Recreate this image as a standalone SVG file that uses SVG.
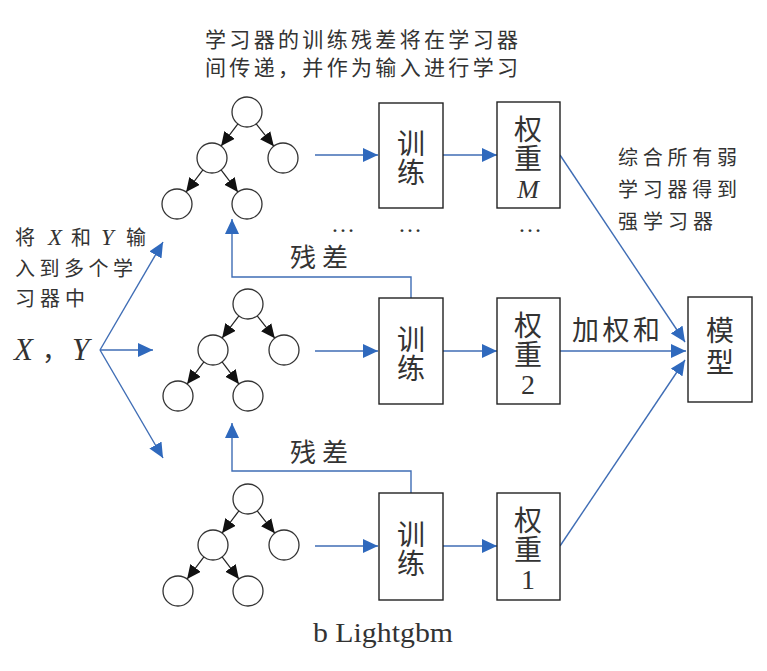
<svg xmlns="http://www.w3.org/2000/svg" xmlns:xlink="http://www.w3.org/1999/xlink" width="767" height="671" viewBox="0 0 767 671">
<style>
.cj{font-family:"Noto Sans CJK SC","Noto Sans",sans-serif;fill:#333;}
.se{font-family:"Liberation Serif","Noto Sans CJK SC",serif;fill:#333;}
.vt{font-family:"Noto Sans CJK SC","Noto Sans",sans-serif;fill:#333;font-size:28px;writing-mode:vertical-rl;text-anchor:middle;letter-spacing:1px;}
.box{fill:#fff;stroke:#222;stroke-width:1.4;}
.nd{fill:#fff;stroke:#333;stroke-width:1.3;}
.te{stroke:#222;stroke-width:1.2;marker-end:url(#ka);}
.ba{fill:none;stroke:#3f6db5;stroke-width:1.4;marker-end:url(#ba);}
</style>
<defs>
<marker id="ba" markerUnits="userSpaceOnUse" markerWidth="16" markerHeight="14" refX="15" refY="7" orient="auto"><path d="M0,0 L15,7 L0,14 z" fill="#2f69bd"/></marker>
<marker id="ka" markerUnits="userSpaceOnUse" markerWidth="15" markerHeight="14" refX="14" refY="6.5" orient="auto"><path d="M0,0 L14,6.5 L0,13 z" fill="#111"/></marker>
<g id="tree">
<line class="te" x1="-9.1" y1="11.9" x2="-25.9" y2="34.1"/>
<line class="te" x1="9.2" y1="11.8" x2="26.8" y2="34.2"/>
<line class="te" x1="-44.1" y1="57.9" x2="-60.9" y2="80.1"/>
<line class="te" x1="-25.9" y1="57.9" x2="-9.1" y2="80.1"/>
<circle class="nd" cx="0" cy="0" r="15"/>
<circle class="nd" cx="-35" cy="46" r="15"/>
<circle class="nd" cx="36" cy="46" r="15"/>
<circle class="nd" cx="-70" cy="92" r="15"/>
<circle class="nd" cx="0" cy="92" r="15"/>
</g>
</defs>
<rect width="767" height="671" fill="#fff"/>

<g id="connectors">
<line class="ba" x1="100" y1="350" x2="163" y2="242"/>
<line class="ba" x1="100" y1="350" x2="153" y2="350"/>
<line class="ba" x1="100" y1="350" x2="163" y2="458"/>
<line class="ba" x1="315" y1="155" x2="378" y2="155"/>
<line class="ba" x1="315" y1="351" x2="378" y2="351"/>
<line class="ba" x1="315" y1="546" x2="378" y2="546"/>
<line class="ba" x1="443" y1="155" x2="497" y2="155"/>
<line class="ba" x1="443" y1="351" x2="497" y2="351"/>
<line class="ba" x1="443" y1="546" x2="497" y2="546"/>
<path class="ba" d="M411,298 V277 H232 V219"/>
<path class="ba" d="M411,493 V471 H232 V423"/>
<line class="ba" x1="560" y1="155" x2="685" y2="342"/>
<line class="ba" x1="560" y1="351" x2="686" y2="351"/>
<line class="ba" x1="560" y1="546" x2="685" y2="360"/>
</g>

<g id="tree3"><use xlink:href="#tree" x="247" y="112"/></g>
<g id="tree2"><use xlink:href="#tree" x="248" y="304"/></g>
<g id="tree1"><use xlink:href="#tree" x="248" y="499"/></g>

<g id="trainM"><rect class="box" x="379" y="103" width="64" height="105"/>
<text class="vt" x="411" y="158">训练</text></g>
<g id="train2"><rect class="box" x="379" y="298" width="64" height="106"/>
<text class="vt" x="411" y="354">训练</text></g>
<g id="train1"><rect class="box" x="379" y="493" width="64" height="107"/>
<text class="vt" x="411" y="549">训练</text></g>

<g id="weightM"><rect class="box" x="497" y="102" width="63" height="106"/>
<text class="vt" x="528" y="144">权重</text>
<text class="se" x="528" y="198" font-size="26" font-style="italic" text-anchor="middle">M</text></g>
<g id="weight2"><rect class="box" x="497" y="298" width="63" height="106"/>
<text class="vt" x="528" y="340">权重</text>
<text class="se" x="528" y="394" font-size="28" text-anchor="middle">2</text></g>
<g id="weight1"><rect class="box" x="497" y="493" width="63" height="107"/>
<text class="vt" x="528" y="535">权重</text>
<text class="se" x="528" y="589" font-size="28" text-anchor="middle">1</text></g>

<g id="model"><rect class="box" x="688" y="297" width="64" height="105"/>
<text class="vt" x="720" y="348" style="letter-spacing:4px">模型</text></g>

<g id="labels">
<text class="cj" x="205" y="47" font-size="21" textLength="313" lengthAdjust="spacing">学习器的训练残差将在学习器</text>
<text class="cj" x="205" y="75" font-size="21" textLength="313" lengthAdjust="spacing">间传递，并作为输入进行学习</text>
<text class="cj" x="15" y="245" font-size="20">将</text>
<text class="se" x="48" y="245" font-size="23" font-style="italic">X</text>
<text class="cj" x="71" y="245" font-size="20">和</text>
<text class="se" x="101" y="245" font-size="23" font-style="italic">Y</text>
<text class="cj" x="126" y="245" font-size="20">输</text>
<text class="cj" x="15" y="276" font-size="20" textLength="118" lengthAdjust="spacing">入到多个学</text>
<text class="cj" x="15" y="306" font-size="20" textLength="70" lengthAdjust="spacing">习器中</text>
<text class="se" x="14" y="360" font-size="31" font-style="italic">X</text>
<text class="cj" x="42" y="360" font-size="26">，</text>
<text class="se" x="72" y="360" font-size="31" font-style="italic">Y</text>
<text class="cj" x="618" y="165" font-size="20" textLength="119" lengthAdjust="spacing">综合所有弱</text>
<text class="cj" x="618" y="197" font-size="20" textLength="119" lengthAdjust="spacing">学习器得到</text>
<text class="cj" x="618" y="229" font-size="20" textLength="95" lengthAdjust="spacing">强学习器</text>
<text class="cj" x="290" y="267" font-size="26" textLength="58" lengthAdjust="spacing">残差</text>
<text class="cj" x="290" y="462" font-size="26" textLength="58" lengthAdjust="spacing">残差</text>
<text class="cj" x="572" y="340" font-size="27" textLength="88" lengthAdjust="spacing">加权和</text>
<text class="se" x="343" y="232" font-size="24" text-anchor="middle">…</text>
<text class="se" x="410" y="232" font-size="24" text-anchor="middle">…</text>
<text class="se" x="530" y="232" font-size="24" text-anchor="middle">…</text>
<text class="se" x="313" y="642" font-size="27" textLength="140" lengthAdjust="spacingAndGlyphs">b Lightgbm</text>
</g>
</svg>
